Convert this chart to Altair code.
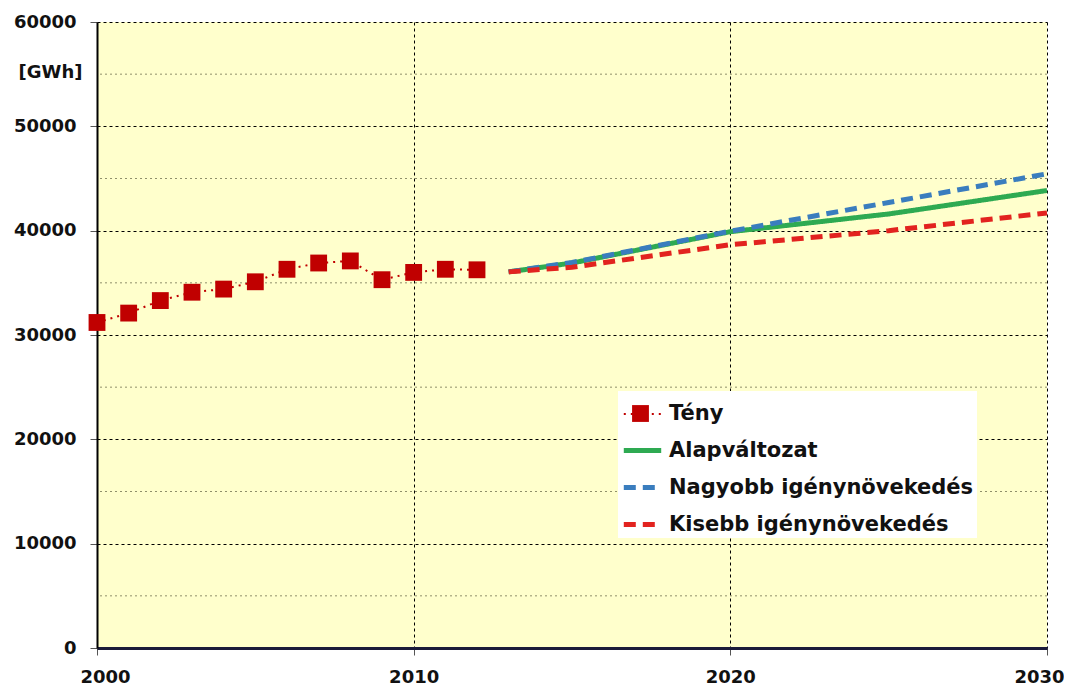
import altair as alt
import pandas as pd

# ---- data ----
series_names = ["Tény", "Alapváltozat", "Nagyobb igénynövekedés", "Kisebb igénynövekedés"]

hist_years = [2000, 2001, 2002, 2003, 2004, 2005, 2006, 2007, 2008, 2009, 2010, 2011, 2012]
teny = [31200, 32100, 33300, 34100, 34400, 35100, 36300, 36900, 37100, 35300, 36000, 36300, 36250]

proj_years = [2013, 2015, 2020, 2025, 2030]
alap = [36050, 36900, 39900, 41600, 43850]
nagyobb = [36050, 36950, 39950, 42700, 45450]
kisebb = [36050, 36500, 38650, 40000, 41700]

y_ticks = [0, 10000, 20000, 30000, 40000, 50000, 60000]
minor_grid = [5000, 15000, 25000, 35000, 45000, 55000]
x_ticks = [2000, 2010, 2020, 2030]

# ---- styles ----
colors = ["#C00000", "#2EAA52", "#3A7DBE", "#E2231F"]
dashes = [[2, 5], [1, 0], [12, 7], [12, 7]]
widths = [2, 5, 5, 5]
SQUARE_PATH = "M-0.45,-0.45H0.45V0.45H-0.45Z"
SYM = 1400
FONT = "DejaVu Sans"

rows = []
for y, v in zip(hist_years, teny):
    rows.append({"year": y, "value": v, "series": series_names[0]})
for name, vals in zip(series_names[1:], [alap, nagyobb, kisebb]):
    for y, v in zip(proj_years, vals):
        rows.append({"year": y, "value": v, "series": name})
df = pd.DataFrame(rows)
df_hist = pd.DataFrame({"year": hist_years, "value": teny, "series": series_names[0]})
df_minor = pd.DataFrame({"value": minor_grid})

x_scale = alt.Scale(domain=[2000, 2030], nice=False, zero=False)
y_scale = alt.Scale(domain=[0, 60000], nice=False)

x_enc = alt.X("year:Q", scale=x_scale, title=None,
              axis=alt.Axis(values=x_ticks, format="d", grid=True, gridColor="#000000",
                            gridDash=[3, 3], gridWidth=1, domainColor="#1b1b3a", domainWidth=3,
                            tickColor="#555555", tickSize=7, labelPadding=13,
                            labelFlush=True, labelFlushOffset=17,
                            labelFont=FONT, labelFontSize=18, labelFontWeight="bold",
                            labelColor="#111111"))
y_enc = alt.Y("value:Q", scale=y_scale,
              axis=alt.Axis(values=y_ticks, format="d", grid=True, gridColor="#000000",
                            gridDash=[3, 3], gridWidth=1, domainColor="#000000", domainWidth=2,
                            tickColor="#555555", tickSize=7, labelPadding=14,
                            labelFont=FONT, labelFontSize=18, labelFontWeight="bold",
                            labelColor="#111111",
                            title="[GWh]", titleAngle=0, titleAlign="right",
                            titleBaseline="middle", titleX=-15, titleY=50,
                            titleFont=FONT, titleFontSize=18, titleFontWeight="bold",
                            titleColor="#111111"))

LEG_X, LEG_Y = 521, 369
common_leg = dict(orient="none", legendX=LEG_X, legendY=LEG_Y, direction="vertical",
                  title=None, padding=3, labelFont=FONT, labelFontSize=21,
                  labelFontWeight="bold", labelColor="#111111", symbolSize=SYM,
                  rowPadding=5, labelOffset=5, labelLimit=500)

line_legend = alt.Legend(fillColor="white", symbolType="stroke", zindex=1, **common_leg)

minor = alt.Chart(df_minor).mark_rule(color="#8f8f6a", strokeDash=[2, 3], strokeWidth=1).encode(
    y=alt.Y("value:Q", scale=y_scale)
)

lines = alt.Chart(df).mark_line().encode(
    x=x_enc,
    y=y_enc,
    color=alt.Color("series:N", scale=alt.Scale(domain=series_names, range=colors),
                    legend=line_legend),
    strokeDash=alt.StrokeDash("series:N", scale=alt.Scale(domain=series_names, range=dashes),
                              legend=line_legend),
    strokeWidth=alt.StrokeWidth("series:N",
                                scale=alt.Scale(type="ordinal", domain=series_names, range=widths),
                                legend=line_legend),
)

squares = alt.Chart(df_hist).mark_point(filled=True, size=SYM, color="#C00000", opacity=1).encode(
    x=alt.X("year:Q", scale=x_scale),
    y=alt.Y("value:Q", scale=y_scale),
    shape=alt.Shape("series:N", scale=alt.Scale(domain=[series_names[0]], range=[SQUARE_PATH]),
                    legend=alt.Legend(symbolStrokeColor="#C00000", symbolStrokeWidth=1,
                                      symbolOpacity=1, labelExpr="''", zindex=2, **common_leg)),
)

chart = alt.layer(minor, lines, squares).properties(
    width=950, height=626,
    padding={"left": 5, "top": 5, "right": 0, "bottom": 0}
).configure_view(
    stroke=None, fill="#FFFFCC"
)

chart.save("out.html", embed_options={"renderer": "svg", "actions": False})
